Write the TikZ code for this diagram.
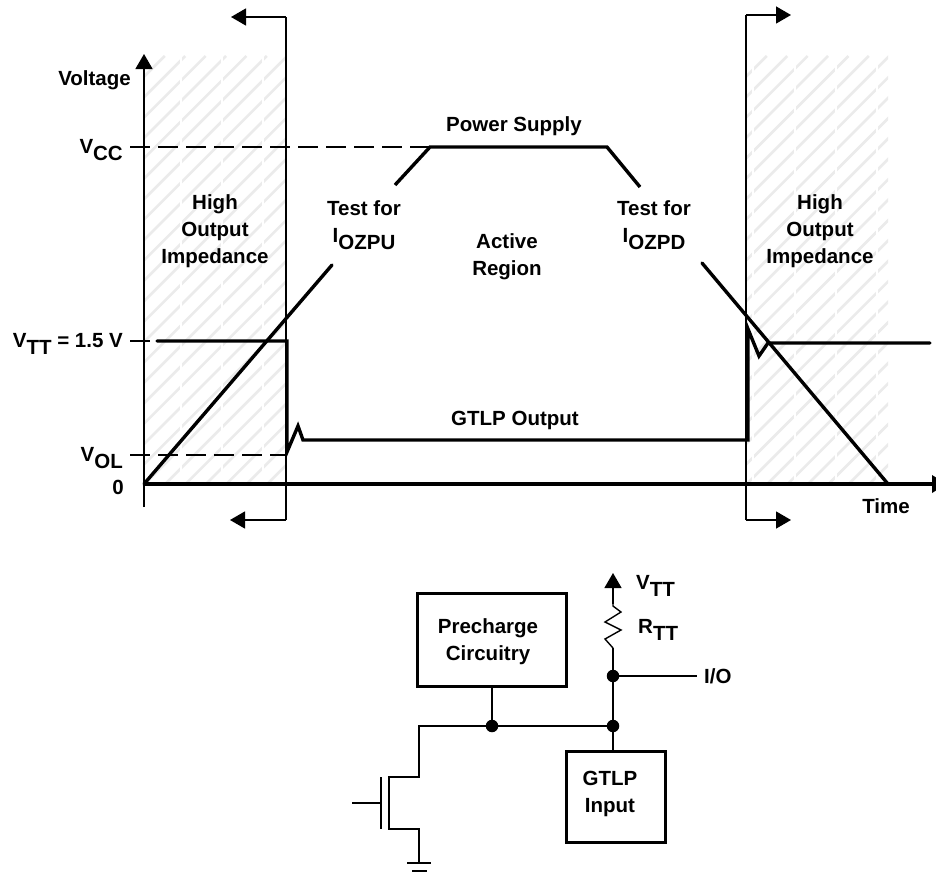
\documentclass[tikz,border=0pt]{standalone}
\usepackage{fontspec}
\setmainfont{Liberation Sans}
\usetikzlibrary{arrows.meta}
\newcommand{\lowered}[1]{\raisebox{-7pt}{#1}}
\tikzset{
  x=1pt,y=-1pt,
  lbl/.style={inner sep=0pt,font=\fontsize{20.5}{27}\selectfont\bfseries,align=center},
  lblr/.style={lbl,anchor=base east},
  lbll/.style={lbl,anchor=base west},
  thin line/.style={line width=1.4pt,line join=miter},
  dash line/.style={line width=1.2pt,dash pattern=on 20pt off 8pt},
  thick line/.style={line width=3.4pt,line join=miter},
  tip arrow/.style={thin line,-{Triangle[length=15pt,width=17pt]}},
  hatch/.style={line width=2.6pt,color=black!8},
  seam/.style={line width=1.2pt,color=white},
  boxed/.style={draw,line width=3pt,inner sep=0pt,rectangle,line join=miter},
  junction/.style={circle,fill=black,inner sep=0pt,minimum size=12.5pt},
}
\begin{document}
\begin{tikzpicture}
\clip (0,0) rectangle (936,875);
\fill[white] (0,0) rectangle (936,875);

% hatched zones
\begin{scope}
\clip (145,56) rectangle (286,483);
\foreach \k in {-6,...,28} \draw[hatch] ({226+20.4*\k},56) -- ({226+20.4*\k-600},656);
\foreach \x in {181,222,263} \draw[seam] (\x,56) -- (\x,483);
\end{scope}
\begin{scope}
\clip (747,56) rectangle (888,483);
\foreach \k in {-6,...,28} \draw[hatch] ({828+20.4*\k},56) -- ({828+20.4*\k-600},656);
\foreach \x in {753,795,836,877} \draw[seam] (\x,56) -- (\x,483);
\end{scope}

% coordinates of the chart
\coordinate (org) at (144,484);
\coordinate (ytop) at (144,54);
\coordinate (ybot) at (144,507);
\coordinate (xend) at (947,484);
\coordinate (lt) at (286,17);
\coordinate (ltip) at (231,17);
\coordinate (lb) at (286,520);
\coordinate (lbtip) at (230,520);
\coordinate (rt) at (746,15);
\coordinate (rtip) at (791,15);
\coordinate (rb) at (746,520);
\coordinate (rbtip) at (791,520);

% dashed levels
\draw[dash line] (130,147) -- (430,147);
\draw[dash line] (130,341) -- (150,341);
\draw[dash line] (130,455) -- (286,455);

% axes and boundary markers
\draw[tip arrow] (ybot) -- (ytop);
\draw[tip arrow] (lb) -- (lbtip);
\draw[thin line] (lb) -- (lt);
\draw[tip arrow] (lt) -- (ltip);
\draw[thin line] (rb) -- (rt);
\draw[tip arrow] (rt) -- (rtip);
\draw[tip arrow] (rb) -- (rbtip);
\draw[line width=3.4pt,-{Triangle[length=15pt,width=17pt]}] (org) -- (xend);

% supply ramp
\draw[thick line,line cap=round] (org) -- (332,265);
\draw[thick line] (395,185) -- (430,147) -- (607,147) -- (640,187);
\draw[thick line,line cap=round] (702,263) -- (888,484);

% GTLP output
\draw[thick line,line cap=round] (157,341) -- (287,341) -- (287,452) -- (298,426) -- (303,440) -- (748,440) -- (748,329) -- (759,356) -- (768,343) -- (930,343);

% chart labels
\node[lblr] (voltage) at (131,85) {Voltage};
\node[lblr] (vcc) at (123,153) {V\lowered{CC}};
\node[lblr] (vtt) at (123,347) {V\lowered{TT} = 1.5 V};
\node[lblr] (vol) at (123,461) {V\lowered{OL}};
\node[lblr] (zero) at (124,494) {0};
\node[lbl,anchor=base] (time) at (886,513) {Time};
\node[lbl,anchor=base] (power) at (514,131) {Power Supply};
\node[lbl,anchor=base] (gout) at (515,425) {GTLP Output};
\node[lbl,anchor=base] (hl) at (215,263) {High\\Output\\Impedance};
\node[lbl,anchor=base] (hr) at (820,263) {High\\Output\\Impedance};
\node[lbl,anchor=base] (tpu) at (364,242) {Test for\\I\lowered{OZPU}};
\node[lbl,anchor=base] (tpd) at (654,242) {Test for\\I\lowered{OZPD}};
\node[lbl,anchor=base] (active) at (507,275) {Active\\Region};

% circuit
\node[boxed,minimum width=149pt,minimum height=93pt] (pre) at (491.5,639.5) {};
\node[lbl] at (488,642) {Precharge\\Circuitry};
\node[boxed,minimum width=99pt,minimum height=91pt] (gin) at (615.5,796.5) {};
\node[lbl] at (610,794) {GTLP\\Input};
\node[junction] (jio) at (613,676) {};
\node[junction] (jin) at (613,726) {};
\node[junction] (jpre) at (492,726) {};
\coordinate (vtop) at (613,573);
\coordinate (rtop) at (613,604);
\coordinate (rbot) at (613,648);
\coordinate (iot) at (697,676);
\coordinate (dtop) at (419,777);
\coordinate (dch) at (389,777);
\coordinate (sch) at (389,829);
\coordinate (sbot) at (419,829);
\coordinate (gnd) at (419,863);
\coordinate (gtop) at (381,777);
\coordinate (gbot) at (381,829);
\coordinate (gin1) at (352,803);
\coordinate (gin2) at (381,803);

\draw[tip arrow] (rtop) -- (vtop);
\draw[thin line] (rtop) -- ++(0,2) -- ++(8,6) -- ++(-16,10) -- ++(16,8) -- ++(-16,9) -- ++(8,9) -- (rbot);
\draw[thin line] (rbot) -- (jio) -- (jin) -- (gin.north -| jin);
\draw[thin line] (jio) -- (iot);
\draw[thin line] (pre.south -| jpre) -- (jpre);
\draw[thin line] (jin) -- (jpre) -- (jpre -| dtop) -- (dtop) -- (dch) -- (sch) -- (sbot) -- (gnd);
\draw[thin line] (gtop) -- (gbot);
\draw[thin line] (gin1) -- (gin2);
\draw[thin line] (407,863) -- (431,863);
\draw[thin line] (412,871) -- (427,871);

\node[lbll] (vttc) at (636,589) {V\lowered{TT}};
\node[lbll] (rtt) at (638,633) {R\lowered{TT}};
\node[lbll] (io) at (704,683) {I/O};
\end{tikzpicture}
\end{document}
